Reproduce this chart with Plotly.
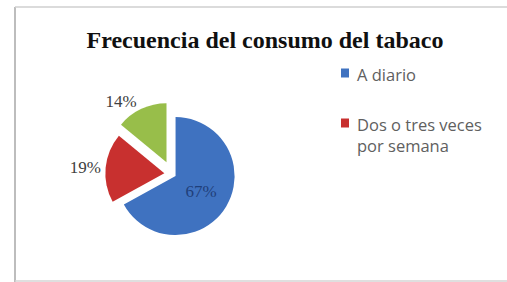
import plotly.graph_objects as go

# Data
labels = ["A diario", "Dos o tres veces por semana", "Esporádicamente"]
values = [67, 19, 14]
colors = ["#3F72C0", "#C8302F", "#98BE4A"]
legend_text = ["A diario", "Dos o tres veces<br>por semana"]

W, H = 507, 282


def px(x):
    return x / W


def py(y):
    return 1 - y / H


fig = go.Figure()
fig.add_trace(go.Pie(
    labels=labels,
    values=values,
    sort=False,
    direction="clockwise",
    rotation=0,
    pull=[0.07, 0.13, 0.22],
    marker=dict(colors=colors, line=dict(width=0)),
    textinfo="percent",
    texttemplate="%{percent:.0%}",
    textposition=["inside", "outside", "outside"],
    insidetextfont=dict(family="Liberation Serif", size=17, color="#1F3F7A"),
    outsidetextfont=dict(family="Liberation Serif", size=17, color="#404040"),
    showlegend=False,
    domain=dict(x=[px(100), px(244)], y=[py(246), py(102)]),
    hoverinfo="label+percent",
))

# Custom legend (only two entries visible in reference)
leg_y = [73, 123]
for i, (txt, y) in enumerate(zip(legend_text, leg_y)):
    fig.add_shape(type="rect", xref="paper", yref="paper",
                  x0=px(341), x1=px(349), y0=py(y + 4.5), y1=py(y - 4.5),
                  fillcolor=colors[i], line=dict(width=0))
    fig.add_annotation(text=txt, xref="paper", yref="paper",
                       x=px(355), y=py(y - 12), xanchor="left", yanchor="top",
                       align="left", showarrow=False,
                       font=dict(family="Open Sans", size=16.5, color="#606060"))

# Outer frame: left, top and bottom edges
fig.add_shape(type="line", xref="paper", yref="paper",
              x0=px(15), x1=px(15), y0=py(282), y1=py(7),
              line=dict(color="#BDBDBD", width=2))
fig.add_shape(type="line", xref="paper", yref="paper",
              x0=px(15), x1=px(507), y0=py(7), y1=py(7),
              line=dict(color="#CFCFCF", width=1.5))
fig.add_shape(type="line", xref="paper", yref="paper",
              x0=px(15), x1=px(507), y0=py(281), y1=py(281),
              line=dict(color="#D4D4D4", width=1.5))

fig.update_layout(
    width=W, height=H,
    margin=dict(l=0, r=0, t=0, b=0),
    paper_bgcolor="white",
    plot_bgcolor="white",
    title=dict(text="<b>Frecuencia del consumo del tabaco</b>",
               x=px(265), xanchor="center", y=py(40), yanchor="middle",
               font=dict(family="Liberation Serif", size=24, color="#101010")),
)

fig.write_html(
    "out.html",
    config={"displayModeBar": False},
    post_script="document.body.style.margin='0';document.body.style.overflow='hidden';",
)
